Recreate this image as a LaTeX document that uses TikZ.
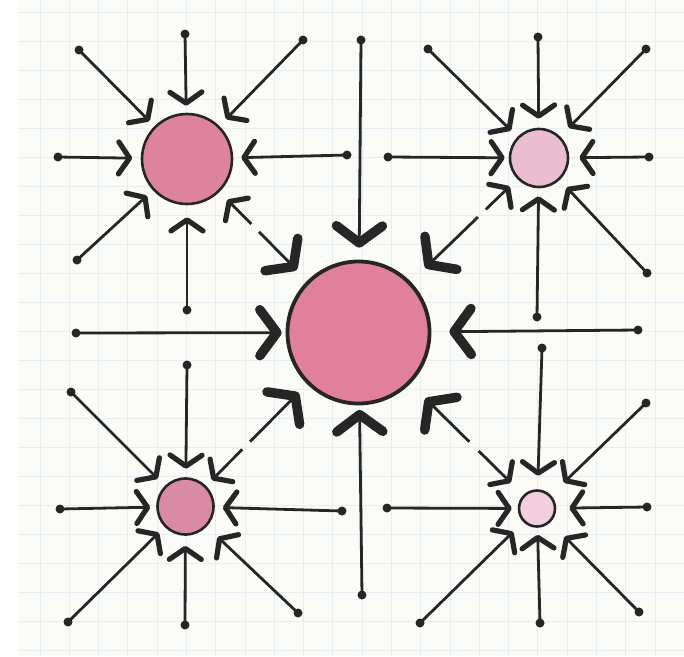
\documentclass[tikz,border=0pt]{standalone}
\usetikzlibrary{arrows.meta}
\definecolor{ink}{HTML}{262626}
\definecolor{paper}{HTML}{FAFAF7}
\definecolor{gridc}{HTML}{E3EDF2}
\definecolor{pinkC}{HTML}{E0809A}
\definecolor{pinkTL}{HTML}{DD839D}
\definecolor{pinkBL}{HTML}{D98AA4}
\definecolor{pinkTR}{HTML}{EABDD0}
\definecolor{pinkBR}{HTML}{F1CFDE}
\tikzset{
  smtip/.tip={Straight Barb[length=11pt,width=32pt,line width=5.2pt,round]},
  bigtip/.tip={Straight Barb[length=17pt,width=46pt,line width=9.5pt,round]},
  dot/.style={circle,fill=ink,inner sep=0pt,minimum size=9pt},
  ball/.style={circle,draw=ink,line width=2.6pt,inner sep=0pt},
  spoke/.style={draw=ink,line width=2.8pt,line cap=round,-smtip},
  bigspoke/.style={draw=ink,line width=2.8pt,line cap=round,-bigtip},
  link/.style={draw=ink,line width=2.8pt,smtip-bigtip},
}
\begin{document}
\begin{tikzpicture}[x=1pt,y=-1pt]
\useasboundingbox (0,0) rectangle (684,656);
% paper and grid
\fill[white] (0,0) rectangle (684,656);
\fill[paper] (18,0) rectangle (684,656);
\foreach \k in {0,...,21} {
  \draw[gridc,line width=1pt] ({40+29.29*\k},0) -- ({40+29.29*\k},656);
}
\foreach \k in {0,...,22} {
  \draw[gridc,line width=1pt] (18,{12+29*\k}) -- (684,{12+29*\k});
}
% circles
\node[ball,line width=3.8pt,minimum size=142pt,fill=pinkC] (C) at (358.5,332.5) {};
\node[ball,minimum size=90pt,fill=pinkTL] (TL) at (187,159) {};
\node[ball,minimum size=58pt,fill=pinkTR] (TR) at (539,158) {};
\node[ball,minimum size=56pt,fill=pinkBL] (BL) at (185.5,506.5) {};
\node[ball,minimum size=36pt,fill=pinkBR] (BR) at (537,508.5) {};
% dots
\node[dot] (tlnw) at (79,50) {};
\node[dot] (tln) at (185,34) {};
\node[dot] (tlne) at (303,40) {};
\node[dot] (tlw) at (58,157) {};
\node[dot] (tle) at (347,155) {};
\node[dot] (tlsw) at (77,260) {};
\node[dot] (tls) at (187,310) {};
\node[dot] (trnw) at (428,49) {};
\node[dot] (trn) at (538,37) {};
\node[dot] (trne) at (646,49) {};
\node[dot] (trw) at (388,157) {};
\node[dot] (tre) at (649,157) {};
\node[dot] (trs) at (537,317) {};
\node[dot] (trse) at (647,273) {};
\node[dot] (blnw) at (71,392) {};
\node[dot] (bln) at (187,365) {};
\node[dot] (blw) at (60,509) {};
\node[dot] (ble) at (342,511) {};
\node[dot] (blsw) at (68,622) {};
\node[dot] (bls) at (185,625) {};
\node[dot] (blse) at (298,613) {};
\node[dot] (brn) at (542,348) {};
\node[dot] (brne) at (646,403) {};
\node[dot] (brw) at (387,508) {};
\node[dot] (bre) at (647,507) {};
\node[dot] (brsw) at (420,623) {};
\node[dot] (brs) at (540,623) {};
\node[dot] (brse) at (639,612) {};
\node[dot] (cn) at (361,40) {};
\node[dot] (cw) at (76,333) {};
\node[dot] (ce) at (638,330) {};
\node[dot] (cs) at (362,595) {};
% top-left spokes
\draw[spoke,shorten >=7pt] (tlnw.center) -- (TL);
\draw[spoke,shorten >=7pt] (tln.center) -- (TL);
\draw[spoke,shorten >=9.5pt] (tlne.center) -- (TL);
\draw[spoke,shorten >=8.5pt] (tlw.center) -- (TL);
\draw[spoke,shorten >=8pt] (tle.center) -- (TL);
\draw[spoke,shorten >=8pt] (tlsw.center) -- (TL);
\draw[spoke,shorten >=12pt] (tls.center) -- (TL);
% top-right spokes
\draw[spoke,shorten >=9pt] (trnw.center) -- (TR);
\draw[spoke,shorten >=9pt] (trn.center) -- (TR);
\draw[spoke,shorten >=12pt] (trne.center) -- (TR);
\draw[spoke,shorten >=4pt] (trw.center) -- (TR);
\draw[spoke,shorten >=10pt] (tre.center) -- (TR);
\draw[spoke,shorten >=8pt] (trs.center) -- (TR);
\draw[spoke,shorten >=10pt] (trse.center) -- (TR);
% bottom-left spokes
\draw[spoke,shorten >=8.5pt] (bln.center) -- (BL);
\draw[spoke,shorten >=10pt] (blnw.center) -- (BL);
\draw[spoke,shorten >=6pt] (blw.center) -- (BL);
\draw[spoke,shorten >=8pt] (ble.center) -- (BL);
\draw[spoke,shorten >=8pt] (blsw.center) -- (BL);
\draw[spoke,shorten >=10pt] (bls.center) -- (BL);
\draw[spoke,shorten >=15pt] (blse.center) -- (BL);
% bottom-right spokes
\draw[spoke,shorten >=13.5pt] (brn.center) -- (BR);
\draw[spoke,shorten >=18pt] (brne.center) -- (BR);
\draw[spoke,shorten >=6pt] (brw.center) -- (BR);
\draw[spoke,shorten >=13pt] (bre.center) -- (BR);
\draw[spoke,shorten >=14pt] (brsw.center) -- (BR);
\draw[spoke,shorten >=7pt] (brs.center) -- (BR);
\draw[spoke,shorten >=20pt] (brse.center) -- (BR);
% centre spokes
\draw[bigspoke,shorten >=12pt] (cn.center) -- (C);
\draw[bigspoke,shorten >=4pt] (cw.center) -- (C);
\draw[bigspoke,shorten >=18pt] (ce.center) -- (C);
\draw[bigspoke,shorten >=4.5pt] (cs.center) -- (C);
% links small circle <-> centre
\draw[link,shorten <=11pt,shorten >=15pt,dash pattern=on 29pt off 11pt on 400pt] (TL) -- (C);
\draw[link,shorten <=10.5pt,shorten >=20pt,dash pattern=on 28pt off 11pt on 400pt] (TR) -- (C);
\draw[link,shorten <=8pt,shorten >=12pt,dash pattern=on 38pt off 11pt on 400pt] (BL) -- (C);
\draw[link,shorten <=17.5pt,shorten >=21pt,dash pattern=on 40pt off 13pt on 400pt] (BR) -- (C);
\end{tikzpicture}
\end{document}
